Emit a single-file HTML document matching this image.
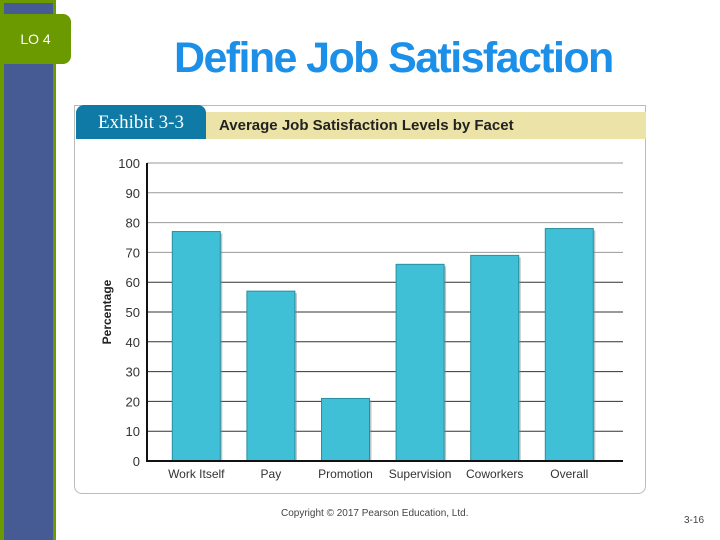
<!DOCTYPE html>
<html><head><meta charset="utf-8"><style>
body{margin:0;width:720px;height:540px;background:#fff;position:relative;overflow:hidden;font-family:"Liberation Sans",sans-serif}
</style></head><body>
<div style="position:absolute;left:0;top:0;width:56px;height:540px;background:#6a9a00"></div>
<div style="position:absolute;left:4px;top:3px;width:49px;height:537px;background:#465b93"></div>
<div style="position:absolute;left:0;top:14px;width:71px;height:50px;background:#6a9a00;border-radius:0 8px 8px 0;color:#fff;font-size:14px;line-height:50px;text-align:center">LO 4</div>
<div style="position:absolute;left:174px;top:34px;font-size:43px;font-weight:bold;color:#1c8fe8;letter-spacing:-1.6px">Define Job Satisfaction</div>
<div style="position:absolute;left:74px;top:105px;width:572px;height:389px;border:1px solid #bbb;border-radius:0 0 8px 8px;box-sizing:border-box"></div>
<div style="position:absolute;left:76px;top:105px;width:130px;height:34px;background:#0f7aa6;border-radius:8px 8px 0 0;color:#fff;font-family:'Liberation Serif',serif;font-size:19px;line-height:36px;text-align:center">Exhibit 3-3</div>
<div style="position:absolute;left:206px;top:112px;width:440px;height:27px;background:#ece3a8;font-size:15px;font-weight:bold;line-height:28px;padding-left:13px;box-sizing:border-box;color:#222">Average Job Satisfaction Levels by Facet</div>
<svg id="chart" width="720" height="540" style="position:absolute;left:0;top:0"></svg>
<div style="position:absolute;left:281px;top:508px;font-size:10px;color:#444">Copyright © 2017 Pearson Education, Ltd.</div>
<div style="position:absolute;left:684px;top:515px;font-size:10px;color:#444">3-16</div>
<script>
const categories=["Work Itself","Pay","Promotion","Supervision","Coworkers","Overall"];
const values=[77,57,21,66,69,78];
const ticks=[0,10,20,30,40,50,60,70,80,90,100];
const svg=document.getElementById('chart');const NS="http://www.w3.org/2000/svg";
const x0=147,x1=623,yTop=163,yBot=461;
const y=v=>yBot-(v/100)*(yBot-yTop);
const step=74.6,start=159;
const xc=i=>start+step*(i+0.5);
function mk(t,a){const e=document.createElementNS(NS,t);for(const k in a)e.setAttribute(k,a[k]);svg.appendChild(e);return e;}
ticks.forEach(t=>{
 const l=mk('line',{x1:x0,x2:x1,y1:y(t),y2:y(t),stroke:t>=70?'#999':'#333','stroke-width':1});
 
 
 const tx=mk('text',{x:140,y:y(t)+5,'text-anchor':'end','font-size':13,fill:'#333'});
 tx.textContent=t;
 
 
});
values.forEach((v,i)=>{
 const s=mk('rect',{x:xc(i)-22,y:y(v)+2,width:48,height:yBot-y(v)-2,fill:'#7a8a90',opacity:0.5});
 
 
 const r=mk('rect',{x:xc(i)-24,y:y(v),width:48,height:yBot-y(v),fill:'#3fc0d6',stroke:'#2a8fa0','stroke-width':1});
 
 
 const tx=mk('text',{x:xc(i),y:478,'text-anchor':'middle','font-size':12,fill:'#333'});
 tx.textContent=categories[i];
 
 
});
const ax=mk('path',{d:`M${x0} ${yTop}V${yBot}H${x1}`,fill:'none',stroke:'#111','stroke-width':2});


const yt=mk('text',{x:0,y:0,transform:'translate(111,312) rotate(-90)','text-anchor':'middle','font-size':12,'font-weight':'bold',fill:'#222'});
yt.textContent='Percentage';


</script>
</body></html>
